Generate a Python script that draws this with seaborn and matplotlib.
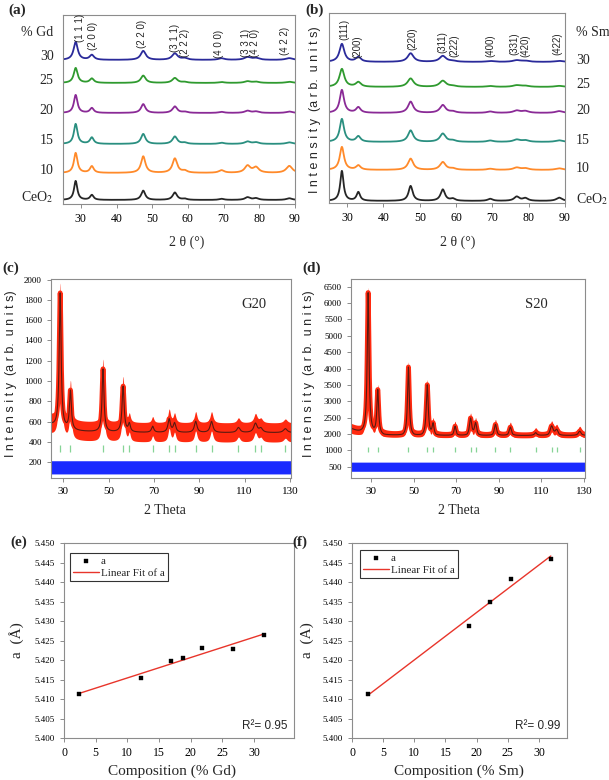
import numpy as np
import seaborn as sns
import matplotlib.pyplot as plt

sns.set_style('ticks')
plt.rcParams['font.family'] = ['Liberation Serif', 'DejaVu Serif']
plt.rcParams['mathtext.fontset'] = 'stix'

# ---------------- (a), (b) XRD patterns ----------------
hkl_a = ['(1 1 1)', '(2 0 0)', '(2 2 0)', '(3 1 1)', '(2 2 2)', '(4 0 0)', '(3 3 1)', '(4 2 0)', '(4 2 2)']
hkl_b = ['(111)', '(200)', '(220)', '(311)', '(222)', '(400)', '(331)', '(420)', '(422)']
peak_pos = [28.55, 33.08, 47.48, 56.34, 59.09, 69.4, 76.7, 79.07, 88.4]

series_names = ['CeO$_2$', '10', '15', '20', '25', '30']
series_colors = ['#262626', '#ff8a2a', '#2a8f80', '#8a2a96', '#2f9a2f', '#2a2a9a']

gd_base = [4, 31, 60, 91, 121, 144]
gd_height = [19, 20, 20, 18, 15, 18]
gd_width = [1.1, 1.2, 1.2, 1.2, 1.3, 1.4]
gd_rel = [
    [1, 0.26, 0.49, 0.39, 0.06, 0.06, 0.14, 0.09, 0.09],
    [1, 0.33, 0.83, 0.72, 0.10, 0.13, 0.35, 0.27, 0.35],
    [1, 0.32, 0.50, 0.37, 0.06, 0.06, 0.12, 0.08, 0.08],
    [1, 0.27, 0.49, 0.36, 0.06, 0.06, 0.12, 0.08, 0.08],
    [1, 0.29, 0.49, 0.33, 0.06, 0.06, 0.11, 0.08, 0.08],
    [1, 0.27, 0.50, 0.36, 0.09, 0.09, 0.15, 0.10, 0.10],
]
gd_label_x = [29.9, 33.5, 47.0, 56.4, 59.2, 68.8, 76.3, 78.8, 87.2]
gd_label_y = [162, 154, 156, 152, 147, 146, 147, 147, 149]

sm_base = [2, 33, 61, 90, 116, 141]
sm_height = [30, 23, 23, 23, 18, 18]
sm_width = [1.1, 1.4, 1.4, 1.4, 1.6, 1.6]
sm_rel = [
    [1, 0.29, 0.50, 0.38, 0.07, 0.07, 0.14, 0.09, 0.11],
    [1, 0.19, 0.49, 0.34, 0.06, 0.05, 0.10, 0.07, 0.07],
    [1, 0.24, 0.50, 0.36, 0.06, 0.06, 0.10, 0.07, 0.07],
    [1, 0.24, 0.49, 0.34, 0.06, 0.06, 0.10, 0.08, 0.08],
    [1, 0.26, 0.47, 0.34, 0.05, 0.05, 0.09, 0.06, 0.06],
    [1, 0.26, 0.48, 0.33, 0.05, 0.05, 0.09, 0.06, 0.06],
]
sm_label_x = [29.1, 32.9, 47.9, 56.1, 59.5, 69.4, 76.0, 79.0, 88.0]
sm_label_y = [163, 145, 153, 150, 146, 146, 148, 146, 148]

# ---------------- (c), (d) Rietveld ----------------
bragg_pos = [28.55, 33.08, 47.48, 56.34, 59.09, 69.4, 76.7, 79.07, 88.4, 95.4, 107.3, 114.8, 117.2, 128.0]
c_height = [1330, 380, 620, 450, 80, 60, 130, 90, 110, 110, 50, 90, 40, 40]
d_height = [4320, 1350, 2120, 1570, 370, 320, 550, 400, 380, 300, 130, 320, 200, 180]
rv_width = [1.0, 1.0, 1.0, 1.1, 1.1, 1.2, 1.3, 1.3, 1.4, 1.5, 1.7, 1.8, 1.8, 2.0]
c_background, d_background = 490, 1900
c_hump = (20, 110, 14)
d_hump = (17, 320, 14)

# ---------------- (e), (f) lattice parameter ----------------
gd_comp = [2.4, 12.2, 16.9, 18.8, 21.8, 26.6, 31.5]
gd_a = [5.4112, 5.4155, 5.4197, 5.4206, 5.4232, 5.4228, 5.4263]
sm_comp = [2.5, 18.7, 22.1, 25.5, 31.9]
sm_a = [5.4112, 5.4288, 5.4350, 5.4408, 5.4460]


def profile(x, pos, heights, widths, base):
    y = np.full_like(x, float(base))
    for p, h, w in zip(pos, heights, widths):
        y += h / (1 + ((x - p) / (w / 2)) ** 2)
    return y


W, H = 609, 780
fig = plt.figure(figsize=(W / 100, H / 100), dpi=100)


def box(l, t, r, b):
    return [l / W, 1 - b / H, (r - l) / W, (b - t) / H]


def ftext(px, py, s, **kw):
    fig.text(px / W, 1 - py / H, s, **kw)


def style(ax):
    for sp in ax.spines.values():
        sp.set_visible(True)
        sp.set_color('#8c8c8c')
        sp.set_linewidth(0.8)
    ax.tick_params(color='#8c8c8c', labelcolor='black', direction='out', length=3, width=0.7)


# ---- (a) and (b)
x_ab = np.linspace(25, 90, 1600)
for (l, t, r, b), base, hts, wds, rels, hkl, lx, ly, side in [
        ((63, 15, 295, 204), gd_base, gd_height, gd_width, gd_rel, hkl_a, gd_label_x, gd_label_y, 'left'),
        ((329, 13, 565, 203), sm_base, sm_height, sm_width, sm_rel, hkl_b, sm_label_x, sm_label_y, 'right')]:
    ax = fig.add_axes(box(l, t, r, b))
    for i in range(6):
        hh = [hts[i] * rr for rr in rels[i]]
        ww = [wds[i] * (1 + 0.012 * (p - 28)) for p in peak_pos]
        y = profile(x_ab, peak_pos, hh, ww, base[i])
        sns.lineplot(x=x_ab, y=y, ax=ax, color=series_colors[i], lw=1.3)
        if side == 'left':
            ax.text(-0.04, base[i] + 3, series_names[i], transform=ax.get_yaxis_transform(),
                    ha='right', va='center', fontsize=10)
        else:
            ax.text(1.047, base[i] + 2, series_names[i], transform=ax.get_yaxis_transform(),
                    ha='left', va='center', fontsize=10)
    for s, xx, yy in zip(hkl, lx, ly):
        ax.text(xx, yy, s, rotation=90, ha='center', va='bottom', fontsize=7,
                family=['Liberation Sans', 'DejaVu Sans'])
    if side == 'left':
        ax.text(-0.04, 172, '% Gd', transform=ax.get_yaxis_transform(), ha='right', va='center', fontsize=10)
    else:
        ax.text(1.047, 171, '% Sm', transform=ax.get_yaxis_transform(), ha='left', va='center', fontsize=10)
    ax.set_xlim(25, 90)
    ax.set_ylim(0, b - t)
    ax.set_xticks(range(30, 91, 10))
    ax.set_yticks([])
    ax.set_xlabel('')
    ax.set_ylabel('')
    style(ax)
    for lab in ax.get_xticklabels():
        lab.set_fontsize(8.5)

ftext(187, 242, '2 θ (°)', ha='center', va='center', fontsize=10)
ftext(458, 242, '2 θ (°)', ha='center', va='center', fontsize=10)
ylab_int = 'I n t e n s i t y  (a r b.  u n i t s)'
ftext(315, 110, ylab_int, rotation=90, ha='center', va='center', fontsize=9,
      family=['Liberation Sans', 'DejaVu Sans'])

# ---- (c) G20
ax = fig.add_axes(box(51, 279, 291, 478))
x_c = np.linspace(24.5, 130.5, 3000)
calc = profile(x_c, bragg_pos + [c_hump[0]], c_height + [c_hump[1]], rv_width + [c_hump[2]], c_background)
ax.fill_between(x_c, calc - 95, calc + 95, color='#ff2a10', lw=0)
sns.lineplot(x=x_c, y=calc, ax=ax, color='#ff2a10', lw=3.5)
sns.lineplot(x=x_c, y=calc, ax=ax, color='#5a1a10', lw=0.8)
ax.vlines(bragg_pos, 305, 370, color='#86d496', lw=0.9)
ax.fill_between(x_c, 85, 215, color='#1a2aff', lw=0)
ax.set_xlim(24.5, 130.5)
ax.set_ylim(45, 2005)
ax.set_xticks(range(30, 131, 20))
ax.set_yticks(range(200, 2001, 200))
ax.text(0.9, 0.87, 'G20', transform=ax.transAxes, ha='right', va='center', fontsize=10.5)
style(ax)
ax.tick_params(axis='y', labelsize=6.5)
ax.tick_params(axis='x', labelsize=8)
ftext(11, 374, ylab_int, rotation=90, ha='center', va='center', fontsize=9,
      family=['Liberation Sans', 'DejaVu Sans'])
ftext(165, 510, '2 Theta', ha='center', va='center', fontsize=10)


# ---- (d) S20, y axis compressed between 1000 and 2000
def fwd(y):
    y = np.asarray(y, dtype=float)
    return np.where(y <= 1000, y + 500, np.where(y < 2000, 1500 + (y - 1000) * 0.5, y))


def inv(t):
    t = np.asarray(t, dtype=float)
    return np.where(t <= 1500, t - 500, np.where(t < 2000, 1000 + (t - 1500) * 2, t))


ax = fig.add_axes(box(351, 279, 585, 478))
x_d = np.linspace(20.5, 130.5, 3000)
calc = profile(x_d, bragg_pos + [d_hump[0]], d_height + [d_hump[1]], rv_width + [d_hump[2]], d_background)
ax.fill_between(x_d, calc - 150, calc + 150, color='#ff2a10', lw=0)
sns.lineplot(x=x_d, y=calc, ax=ax, color='#ff2a10', lw=3.5)
sns.lineplot(x=x_d, y=calc, ax=ax, color='#5a1a10', lw=0.8)
ax.vlines(bragg_pos, 960, 1200, color='#86d496', lw=0.9)
ax.fill_between(x_d, 360, 640, color='#1a2aff', lw=0)
ax.set_yscale('function', functions=(fwd, inv))
ax.set_xlim(20.5, 130.5)
ax.set_ylim(155, 6735)
ax.set_xticks(range(30, 131, 20))
d_ticks = [500, 1000] + list(range(2000, 6501, 500))
ax.set_yticks(d_ticks)
ax.set_yticklabels([str(v) for v in d_ticks])
ax.minorticks_off()
ax.text(0.84, 0.87, 'S20', transform=ax.transAxes, ha='right', va='center', fontsize=10.5)
style(ax)
ax.tick_params(axis='y', labelsize=6.5)
ax.tick_params(axis='x', labelsize=8)
ftext(309, 374, ylab_int, rotation=90, ha='center', va='center', fontsize=9,
      family=['Liberation Sans', 'DejaVu Sans'])
ftext(459, 510, '2 Theta', ha='center', va='center', fontsize=10)

# ---- (e), (f)
for (l, t, r, b), comp, latt, xmax, r2, lab, elem, ylab, lx, ylx in [
        ((64, 543, 294, 738), gd_comp, gd_a, 36.3, 'R²= 0.95', (70, 553), 'Gd', 'a  (Å)', 172, 17),
        ((352, 543, 567, 738), sm_comp, sm_a, 34.5, 'R²= 0.99', (360, 550), 'Sm', 'a  (A)', 459, 307)]:
    ax = fig.add_axes(box(l, t, r, b))
    sns.regplot(x=comp, y=latt, ax=ax, scatter=False, ci=None, color='#e8352b',
                line_kws={'lw': 1.0}, label='Linear Fit of a')
    sns.scatterplot(x=comp, y=latt, ax=ax, marker='s', color='black', s=11,
                    edgecolor='black', label='a', zorder=3)
    ax.set_xlim(0, xmax)
    ax.set_ylim(5.400, 5.450)
    ax.set_xticks(range(0, 31, 5))
    ax.set_yticks(np.arange(5.400, 5.4501, 0.005))
    ax.set_yticklabels([f'{v:.3f}' for v in np.arange(5.400, 5.4501, 0.005)])
    ax.set_xlabel('')
    ax.set_ylabel('')
    style(ax)
    ax.tick_params(axis='y', labelsize=6.5)
    ax.tick_params(axis='x', labelsize=8.5)
    hs, ls = ax.get_legend_handles_labels()
    order = [ls.index('a'), ls.index('Linear Fit of a')]
    leg = ax.legend([hs[k] for k in order], [ls[k] for k in order], loc='upper left',
                    bbox_to_anchor=((lab[0] - l) / (r - l), 1 - (lab[1] - t) / (b - t)),
                    fontsize=8, frameon=True, fancybox=False, edgecolor='black',
                    borderpad=0.3, handlelength=2.3, handletextpad=0.2, labelspacing=0.2,
                    borderaxespad=0)
    leg.get_frame().set_linewidth(0.8)
    ax.text(0.97, 0.06, r2, transform=ax.transAxes, ha='right', va='center', fontsize=8.5,
            family=['Liberation Sans', 'DejaVu Sans'])
    ftext(lx, 771, f'Composition (% {elem})', ha='center', va='center', fontsize=11)
    ftext(ylx, 640, ylab, rotation=90, ha='center', va='center', fontsize=11)

# panel letters
for px, py, s in [(8, 10, '(a)'), (305, 10, '(b)'), (2, 268, '(c)'), (302, 268, '(d)'),
                  (10, 542, '(e)'), (292, 542, '(f)')]:
    ftext(px, py, s, ha='left', va='center', fontsize=11, fontweight='bold')

fig.savefig('out.png', dpi=100)
